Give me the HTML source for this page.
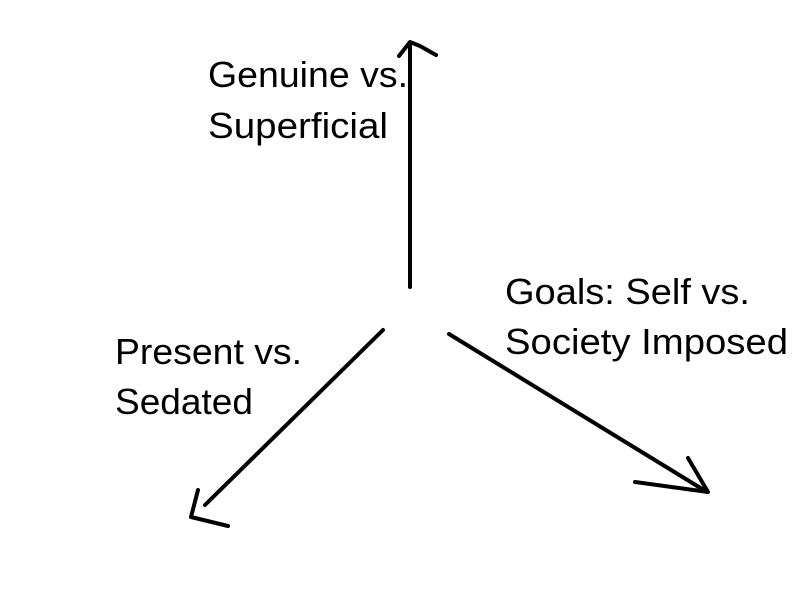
<!DOCTYPE html>
<html><head><style>html,body{margin:0;padding:0;background:#fff;}svg{display:block}</style></head>
<body>
<svg width="800" height="600" xmlns="http://www.w3.org/2000/svg">
<g stroke="#000" stroke-width="4" fill="none" stroke-linecap="round" stroke-linejoin="round">
<line x1="410" y1="44" x2="410" y2="287"/>
<polyline points="399,56 410,42 420,46 436,55"/>
<line x1="383" y1="330" x2="205" y2="505"/>
<polyline points="198,490 191,517 228,526"/>
<line x1="449" y1="334" x2="707" y2="492"/>
<polyline points="635,482 708,492 688,458"/>
</g>
<g font-family="'Liberation Sans', sans-serif" font-size="36" fill="#000">
<text x="208" y="87" textLength="200" lengthAdjust="spacingAndGlyphs">Genuine vs.</text>
<text x="208" y="138" textLength="180" lengthAdjust="spacingAndGlyphs">Superficial</text>
<text x="505" y="304" textLength="245" lengthAdjust="spacingAndGlyphs">Goals: Self vs.</text>
<text x="505" y="354" textLength="283" lengthAdjust="spacingAndGlyphs">Society Imposed</text>
<text x="115" y="364" textLength="187" lengthAdjust="spacingAndGlyphs">Present vs.</text>
<text x="115" y="414" textLength="138" lengthAdjust="spacingAndGlyphs">Sedated</text>
</g>
</svg>
</body></html>
